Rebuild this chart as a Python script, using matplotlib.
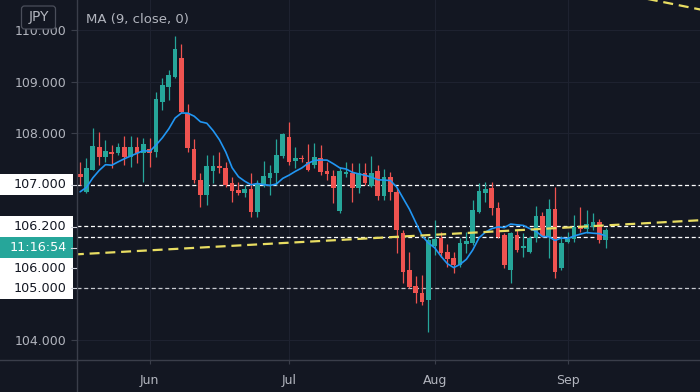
import numpy as np
import pandas as pd
import matplotlib
matplotlib.use('Agg')
import matplotlib.pyplot as plt
import matplotlib.transforms as mtrans
from matplotlib.patches import Rectangle, FancyBboxPatch

# ---------------- data ----------------
dates = pd.bdate_range('2020-05-15', '2020-09-09')

opens = [107.21, 106.86, 107.29, 107.74, 107.54, 107.64, 107.62, 107.74, 107.54, 107.74,
         107.62, 107.70, 107.64, 108.60, 108.89, 109.09, 109.46, 108.39, 107.70, 107.10,
         106.81, 107.27, 107.37, 107.33, 107.04, 106.90, 106.85, 106.92, 106.48, 107.02,
         107.13, 107.23, 107.56, 107.93, 107.46, 107.52, 107.45, 107.39, 107.52, 107.27,
         107.17, 106.50, 107.21, 107.23, 106.94, 107.23, 106.98, 107.27, 106.79, 107.15,
         106.86, 106.07, 105.36, 105.05, 104.91, 104.77, 105.82, 105.97, 105.70, 105.59,
         105.45, 105.86, 105.88, 106.48, 106.85, 106.94, 106.55, 106.03, 105.36, 106.03,
         105.78, 105.70, 105.97, 106.40, 105.99, 106.54, 105.39, 105.90, 105.96, 106.19,
         106.15, 106.19, 106.28, 105.94]
highs = [107.45, 107.52, 108.10, 108.03, 107.87, 107.77, 107.81, 107.95, 107.95, 107.93,
         107.91, 107.91, 108.80, 109.07, 109.23, 109.88, 109.73, 108.57, 107.89, 107.23,
         107.58, 107.58, 107.64, 107.45, 107.15, 107.06, 107.00, 107.23, 107.10, 107.46,
         107.39, 107.89, 108.01, 108.22, 107.74, 107.58, 107.79, 107.81, 107.77, 107.45,
         107.29, 107.35, 107.45, 107.43, 107.43, 107.43, 107.56, 107.39, 107.31, 107.25,
         106.94, 106.13, 105.70, 105.24, 105.26, 105.99, 106.32, 106.09, 105.86, 105.70,
         105.97, 106.09, 106.71, 107.04, 107.06, 107.06, 106.67, 106.07, 106.09, 106.13,
         106.07, 106.01, 106.59, 106.48, 106.73, 106.96, 106.01, 106.09, 106.42, 106.57,
         106.52, 106.46, 106.34, 106.17]
lows = [107.00, 106.84, 107.29, 107.39, 107.45, 107.33, 107.58, 107.39, 107.35, 107.43,
        107.06, 107.35, 107.54, 108.45, 108.65, 109.07, 108.39, 107.64, 107.04, 106.57,
        106.61, 107.04, 107.23, 106.96, 106.67, 106.81, 106.77, 106.38, 106.38, 106.96,
        106.81, 107.00, 107.52, 107.39, 107.33, 107.45, 107.27, 107.33, 107.19, 107.10,
        106.65, 106.46, 107.15, 106.67, 106.85, 107.00, 106.96, 106.71, 106.71, 106.71,
        105.68, 105.10, 105.01, 104.72, 104.68, 104.16, 105.65, 105.61, 105.41, 105.30,
        105.41, 105.68, 105.84, 106.46, 106.67, 106.42, 105.97, 105.39, 105.10, 105.70,
        105.61, 105.68, 105.90, 105.99, 105.59, 105.20, 105.35, 105.88, 105.90, 106.09,
        106.07, 106.13, 105.88, 105.78]
closes = [107.15, 107.33, 107.75, 107.54, 107.66, 107.60, 107.74, 107.54, 107.74, 107.62,
          107.79, 107.62, 108.66, 108.93, 109.13, 109.63, 108.41, 107.71, 107.10, 106.81,
          107.37, 107.37, 107.33, 107.00, 106.89, 106.85, 106.92, 106.48, 107.04, 107.17,
          107.23, 107.58, 107.98, 107.45, 107.52, 107.50, 107.29, 107.54, 107.25, 107.21,
          106.94, 107.27, 107.25, 106.94, 107.23, 107.04, 107.23, 106.79, 107.15, 106.86,
          106.13, 105.32, 105.03, 104.91, 104.74, 105.94, 105.95, 105.68, 105.57, 105.45,
          105.88, 105.92, 106.52, 106.88, 106.92, 106.55, 105.99, 105.45, 106.07, 105.74,
          105.82, 105.97, 106.40, 106.01, 106.54, 105.32, 105.88, 105.96, 106.19, 106.15,
          106.25, 106.28, 105.94, 106.13]
# closes before the visible window (used only for the MA warm-up)
prior_closes = [106.55, 106.10, 106.25, 106.65, 107.70, 107.15, 107.00, 107.25]

ma_period = 9
levels = [107.0, 106.2, 106.0, 105.0]
level_labels = ['107.000', '106.200', '106.000', '105.000']
tick_values = [104, 108, 109, 110]
tick_labels = ['104.000', '108.000', '109.000', '110.000']
trend1_x = [-1, 100]
trend1_y = [105.653, 106.33]
trend2_x = [88, 99]
trend2_y = [110.64, 110.37]
countdown = '11:16:54'
symbol = 'JPY'
legend_text = 'MA (9, close, 0)'

# ---------------- style ----------------
BG = '#131722'
UP = '#26a69a'
DN = '#ef5350'
TXT = '#b2b5be'
GRID = '#1e2230'
AXC = '#3a3e4a'

W, H = 700, 392
fig = plt.figure(figsize=(W / 100, H / 100), dpi=100, facecolor=BG)
ax = fig.add_axes([77 / W, 32 / H, 623 / W, 360 / H], facecolor=BG)

n = len(closes)
x = np.arange(n)
o = np.array(opens); h = np.array(highs); l = np.array(lows); c = np.array(closes)
up = c >= o
cols = np.where(up, UP, DN)

# grid
for v in range(104, 111):
    ax.axhline(v, color=GRID, lw=0.8, zorder=0)
month_idx = [i for i in range(1, n) if dates[i].month != dates[i - 1].month]
for i in month_idx:
    ax.axvline(i, color=GRID, lw=0.8, zorder=0)

# wicks and bodies
ax.vlines(x, l, h, colors=cols, lw=0.9, zorder=3)
body_bottom = np.minimum(o, c)
body_h = np.maximum(np.abs(c - o), 0.025)
ax.bar(x, body_h, bottom=body_bottom, width=0.74, color=cols, edgecolor='none', zorder=4)

# moving average
allc = pd.Series(prior_closes + closes)
ma = allc.rolling(ma_period).mean().values[len(prior_closes):]
ax.plot(x, ma, color='#2196f3', lw=1.2, zorder=5, solid_capstyle='round')

# horizontal levels
for v in levels:
    col = '#ffffff' if v != 105.0 else '#c8cad0'
    ax.axhline(v, color=col, lw=0.9, dashes=(3.2, 2.2), zorder=2)

# trend lines
ax.plot(trend1_x, trend1_y, color='#e8dd62', lw=1.6, dashes=(4.5, 2.6), zorder=6)
ax.plot(trend2_x, trend2_y, color='#e8dd62', lw=1.6, dashes=(4.5, 2.6), zorder=6)

ax.set_xlim(-0.5, 97.9)
ax.set_ylim(103.61, 110.58)

for s in ['top', 'right', 'bottom', 'left']:
    ax.spines[s].set_visible(False)

ax.set_yticks(tick_values)
ax.set_yticklabels(tick_labels)
ax.set_xticks(month_idx)
ax.set_xticklabels([dates[i].strftime('%b') for i in month_idx])
ax.tick_params(axis='y', colors=AXC, labelcolor=TXT, length=4.5, width=0.8, pad=3, labelsize=9)
ax.tick_params(axis='x', colors=AXC, labelcolor=TXT, length=3, width=0.8, pad=7, labelsize=9)

# frame lines (full-height left separator, full-width bottom separator)
fig.add_artist(plt.Line2D([76.5 / W, 76.5 / W], [0, 1], color=AXC, lw=1))
fig.add_artist(plt.Line2D([0, 1], [32 / H, 32 / H], color=AXC, lw=1))

# price-scale label boxes
bt = mtrans.blended_transform_factory(fig.transFigure, ax.transData)
half = 10.5 / 51.67
label_pos = [107.0, 106.19, 105.39, 105.0]
for txt, yv in zip(level_labels, label_pos):
    r = Rectangle((0, yv - half), 73 / W, 2 * half, transform=bt, facecolor='white',
                  edgecolor='none', clip_on=False, zorder=10)
    fig.add_artist(r)
    fig.text(66.5 / W, yv, txt, transform=bt, ha='right', va='center', color='#131722',
             fontsize=9.2, zorder=11)
    fig.add_artist(plt.Line2D([71 / W, 76 / W], [yv, yv], transform=bt, color='#d1d4dc', lw=0.8, zorder=11))
cd_y = 105.78
r = Rectangle((0, cd_y - half), 73 / W, 2 * half, transform=bt, facecolor=UP,
              edgecolor='none', clip_on=False, zorder=10)
fig.add_artist(r)
fig.text(66.5 / W, cd_y, countdown, transform=bt, ha='right', va='center', color='white',
         fontsize=9.2, zorder=11)
fig.add_artist(plt.Line2D([71 / W, 76 / W], [cd_y, cd_y], transform=bt, color='#d1d4dc', lw=0.8, zorder=11))

# symbol box and legend
box = FancyBboxPatch((0.215, (H - 29) / 100), 0.34, 0.23,
                     boxstyle='round,pad=0,rounding_size=0.03',
                     transform=fig.dpi_scale_trans, facecolor=BG, edgecolor='#4a4e5a',
                     lw=0.9, zorder=12)
fig.add_artist(box)
fig.text(38.5 / W, 1 - 17 / H, symbol, ha='center', va='center', color=TXT, fontsize=10, zorder=13)
fig.text(86 / W, 1 - 20 / H, legend_text, ha='left', va='center', color=TXT, fontsize=9.5, zorder=12)

fig.savefig('out.png', dpi=100, facecolor=BG)
